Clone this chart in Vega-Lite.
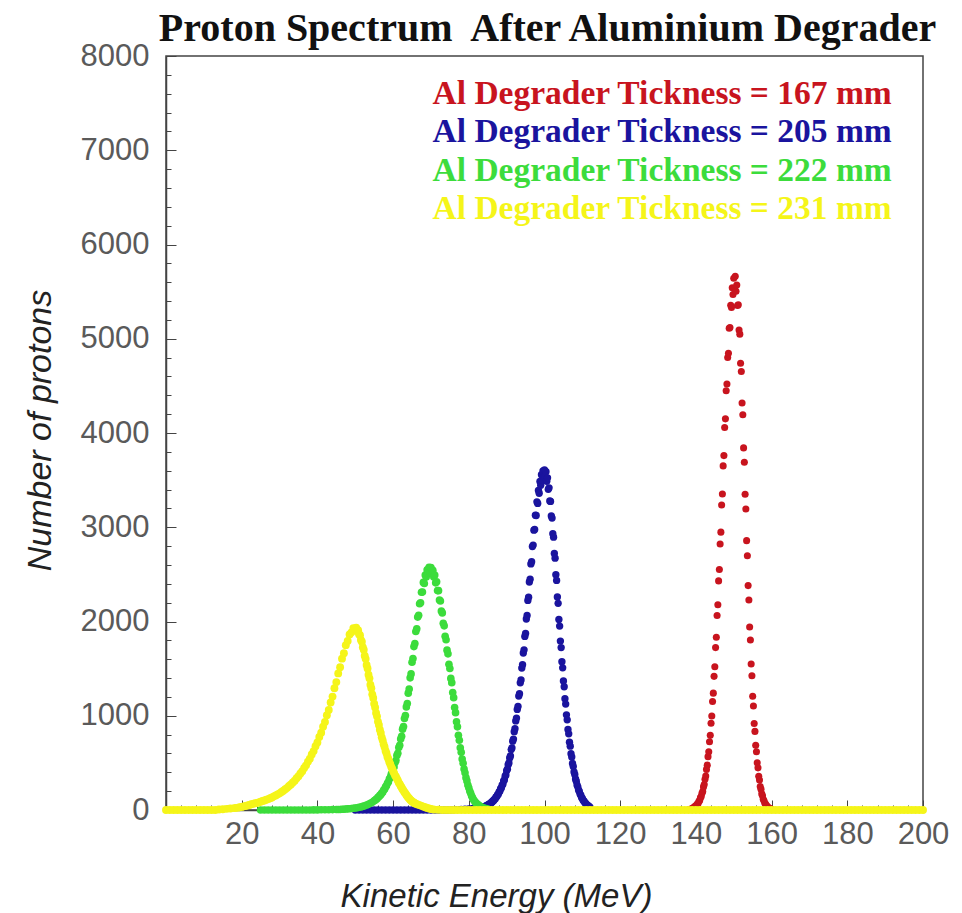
{
"$schema":"https://vega.github.io/schema/vega-lite/v6.json",
"width":757,"height":754,
"autosize":{"type":"none"},
"padding":{"left":166,"top":56,"right":39,"bottom":103},
"background":"white",
"title":{"text":"Proton Spectrum\u00a0 After Aluminium Degrader","font":"Liberation Serif","fontSize":40,"fontWeight":"bold","color":"#111111","anchor":"middle","frame":"group","dx":3,"dy":9,"offset":0},
"config":{"view":{"stroke":"#444444","strokeWidth":1.5}},
"data":{"values":[
{"k":"167","e":138.2,"n":6},{"k":"167","e":138.6,"n":10},{"k":"167","e":139.0,"n":14},{"k":"167","e":139.2,"n":22},{"k":"167","e":139.4,"n":21},{"k":"167","e":139.6,"n":33},{"k":"167","e":139.8,"n":34},{"k":"167","e":140.0,"n":47},{"k":"167","e":140.2,"n":50},{"k":"167","e":140.4,"n":66},{"k":"167","e":140.6,"n":71},{"k":"167","e":140.8,"n":93},{"k":"167","e":141.0,"n":102},{"k":"167","e":141.2,"n":131},{"k":"167","e":141.4,"n":144},{"k":"167","e":141.6,"n":178},{"k":"167","e":141.8,"n":197},{"k":"167","e":142.0,"n":245},{"k":"167","e":142.2,"n":270},{"k":"167","e":142.4,"n":327},{"k":"167","e":142.6,"n":360},{"k":"167","e":142.8,"n":431},{"k":"167","e":143.0,"n":476},{"k":"167","e":143.2,"n":566},{"k":"167","e":143.4,"n":617},{"k":"167","e":143.6,"n":725},{"k":"167","e":143.8,"n":792},{"k":"167","e":144.0,"n":921},{"k":"167","e":144.2,"n":998},{"k":"167","e":144.4,"n":1152},{"k":"167","e":144.6,"n":1240},{"k":"167","e":144.8,"n":1418},{"k":"167","e":145.0,"n":1519},{"k":"167","e":145.2,"n":1723},{"k":"167","e":145.4,"n":1832},{"k":"167","e":145.6,"n":2064},{"k":"167","e":145.8,"n":2178},{"k":"167","e":146.0,"n":2431},{"k":"167","e":146.2,"n":2551},{"k":"167","e":146.4,"n":2822},{"k":"167","e":146.6,"n":2948},{"k":"167","e":146.8,"n":3236},{"k":"167","e":147.0,"n":3352},{"k":"167","e":147.2,"n":3651},{"k":"167","e":147.4,"n":3760},{"k":"167","e":147.6,"n":4058},{"k":"167","e":147.8,"n":4150},{"k":"167","e":148.0,"n":4449},{"k":"167","e":148.2,"n":4519},{"k":"167","e":148.4,"n":4801},{"k":"167","e":148.6,"n":4846},{"k":"167","e":148.8,"n":5112},{"k":"167","e":149.0,"n":5120},{"k":"167","e":149.2,"n":5356},{"k":"167","e":149.4,"n":5331},{"k":"167","e":149.6,"n":5540},{"k":"167","e":149.8,"n":5470},{"k":"167","e":150.0,"n":5641},{"k":"167","e":150.2,"n":5535},{"k":"167","e":150.4,"n":5662},{"k":"167","e":150.6,"n":5504},{"k":"167","e":150.8,"n":5571},{"k":"167","e":151.0,"n":5352},{"k":"167","e":151.2,"n":5361},{"k":"167","e":151.4,"n":5092},{"k":"167","e":151.6,"n":5049},{"k":"167","e":151.8,"n":4740},{"k":"167","e":152.0,"n":4652},{"k":"167","e":152.2,"n":4318},{"k":"167","e":152.4,"n":4193},{"k":"167","e":152.6,"n":3842},{"k":"167","e":152.8,"n":3690},{"k":"167","e":153.0,"n":3351},{"k":"167","e":153.2,"n":3193},{"k":"167","e":153.4,"n":2858},{"k":"167","e":153.6,"n":2697},{"k":"167","e":153.8,"n":2381},{"k":"167","e":154.0,"n":2229},{"k":"167","e":154.2,"n":1942},{"k":"167","e":154.4,"n":1804},{"k":"167","e":154.6,"n":1549},{"k":"167","e":154.8,"n":1425},{"k":"167","e":155.0,"n":1206},{"k":"167","e":155.2,"n":1104},{"k":"167","e":155.4,"n":918},{"k":"167","e":155.6,"n":834},{"k":"167","e":155.8,"n":686},{"k":"167","e":156.0,"n":618},{"k":"167","e":156.2,"n":501},{"k":"167","e":156.4,"n":447},{"k":"167","e":156.6,"n":358},{"k":"167","e":156.8,"n":318},{"k":"167","e":157.0,"n":250},{"k":"167","e":157.2,"n":221},{"k":"167","e":157.4,"n":171},{"k":"167","e":157.6,"n":150},{"k":"167","e":157.8,"n":114},{"k":"167","e":158.0,"n":99},{"k":"167","e":158.2,"n":74},{"k":"167","e":158.4,"n":64},{"k":"167","e":158.6,"n":48},{"k":"167","e":158.8,"n":41},{"k":"167","e":159.0,"n":30},{"k":"167","e":159.4,"n":21},{"k":"167","e":159.8,"n":13},
{"k":"205","e":50,"n":0},{"k":"205","e":51,"n":0},{"k":"205","e":52,"n":0},{"k":"205","e":53,"n":0},{"k":"205","e":54,"n":0},{"k":"205","e":55,"n":0},{"k":"205","e":56,"n":0},{"k":"205","e":57,"n":0},{"k":"205","e":58,"n":0},{"k":"205","e":59,"n":0},{"k":"205","e":60,"n":0},{"k":"205","e":61,"n":0},{"k":"205","e":62,"n":0},{"k":"205","e":63,"n":0},{"k":"205","e":64,"n":0},{"k":"205","e":65,"n":0},{"k":"205","e":66,"n":0},{"k":"205","e":67,"n":0},{"k":"205","e":68,"n":0},{"k":"205","e":69,"n":0},{"k":"205","e":70,"n":0},{"k":"205","e":71,"n":0},{"k":"205","e":72,"n":0},{"k":"205","e":73,"n":0},{"k":"205","e":74,"n":0},{"k":"205","e":75,"n":1},{"k":"205","e":76,"n":2},{"k":"205","e":77,"n":4},{"k":"205","e":78,"n":6},{"k":"205","e":79,"n":9},{"k":"205","e":80,"n":12},{"k":"205","e":81,"n":16},{"k":"205","e":82,"n":21},{"k":"205","e":83,"n":27},
{"k":"205","e":84.0,"n":35},{"k":"205","e":84.2,"n":34},{"k":"205","e":84.4,"n":41},{"k":"205","e":84.6,"n":42},{"k":"205","e":84.8,"n":49},{"k":"205","e":85.0,"n":50},{"k":"205","e":85.2,"n":58},{"k":"205","e":85.4,"n":60},{"k":"205","e":85.6,"n":69},{"k":"205","e":85.8,"n":71},{"k":"205","e":86.0,"n":82},{"k":"205","e":86.2,"n":86},{"k":"205","e":86.4,"n":98},{"k":"205","e":86.6,"n":101},{"k":"205","e":86.8,"n":116},{"k":"205","e":87.0,"n":120},{"k":"205","e":87.2,"n":138},{"k":"205","e":87.4,"n":143},{"k":"205","e":87.6,"n":163},{"k":"205","e":87.8,"n":168},{"k":"205","e":88.0,"n":192},{"k":"205","e":88.2,"n":199},{"k":"205","e":88.4,"n":225},{"k":"205","e":88.6,"n":233},{"k":"205","e":88.8,"n":263},{"k":"205","e":89.0,"n":272},{"k":"205","e":89.2,"n":309},{"k":"205","e":89.4,"n":318},{"k":"205","e":89.6,"n":359},{"k":"205","e":89.8,"n":371},{"k":"205","e":90.0,"n":417},{"k":"205","e":90.2,"n":433},{"k":"205","e":90.4,"n":481},{"k":"205","e":90.6,"n":499},{"k":"205","e":90.8,"n":553},{"k":"205","e":91.0,"n":574},{"k":"205","e":91.2,"n":642},{"k":"205","e":91.4,"n":659},{"k":"205","e":91.6,"n":730},{"k":"205","e":91.8,"n":752},{"k":"205","e":92.0,"n":831},{"k":"205","e":92.2,"n":862},{"k":"205","e":92.4,"n":945},{"k":"205","e":92.6,"n":975},{"k":"205","e":92.8,"n":1067},{"k":"205","e":93.0,"n":1098},{"k":"205","e":93.2,"n":1209},{"k":"205","e":93.4,"n":1234},{"k":"205","e":93.6,"n":1349},{"k":"205","e":93.8,"n":1379},{"k":"205","e":94.0,"n":1506},{"k":"205","e":94.2,"n":1541},{"k":"205","e":94.4,"n":1666},{"k":"205","e":94.6,"n":1699},{"k":"205","e":94.8,"n":1842},{"k":"205","e":95.0,"n":1874},{"k":"205","e":95.2,"n":2027},{"k":"205","e":95.4,"n":2064},{"k":"205","e":95.6,"n":2224},{"k":"205","e":95.8,"n":2258},{"k":"205","e":96.0,"n":2419},{"k":"205","e":96.2,"n":2449},{"k":"205","e":96.4,"n":2611},{"k":"205","e":96.6,"n":2634},{"k":"205","e":96.8,"n":2795},{"k":"205","e":97.0,"n":2811},{"k":"205","e":97.2,"n":2969},{"k":"205","e":97.4,"n":2976},{"k":"205","e":97.6,"n":3128},{"k":"205","e":97.8,"n":3125},{"k":"205","e":98.0,"n":3270},{"k":"205","e":98.2,"n":3253},{"k":"205","e":98.4,"n":3390},{"k":"205","e":98.6,"n":3361},{"k":"205","e":98.8,"n":3486},{"k":"205","e":99.0,"n":3446},{"k":"205","e":99.2,"n":3557},{"k":"205","e":99.4,"n":3502},{"k":"205","e":99.6,"n":3598},{"k":"205","e":99.8,"n":3532},{"k":"205","e":100.0,"n":3609},{"k":"205","e":100.2,"n":3531},{"k":"205","e":100.4,"n":3590},{"k":"205","e":100.6,"n":3487},{"k":"205","e":100.8,"n":3524},{"k":"205","e":101.0,"n":3402},{"k":"205","e":101.2,"n":3418},{"k":"205","e":101.4,"n":3278},{"k":"205","e":101.6,"n":3274},{"k":"205","e":101.8,"n":3119},{"k":"205","e":102.0,"n":3097},{"k":"205","e":102.2,"n":2931},{"k":"205","e":102.4,"n":2895},{"k":"205","e":102.6,"n":2721},{"k":"205","e":102.8,"n":2672},{"k":"205","e":103.0,"n":2496},{"k":"205","e":103.2,"n":2436},{"k":"205","e":103.4,"n":2261},{"k":"205","e":103.6,"n":2193},{"k":"205","e":103.8,"n":2022},{"k":"205","e":104.0,"n":1951},{"k":"205","e":104.2,"n":1792},{"k":"205","e":104.4,"n":1723},{"k":"205","e":104.6,"n":1574},{"k":"205","e":104.8,"n":1508},{"k":"205","e":105.0,"n":1369},{"k":"205","e":105.2,"n":1308},{"k":"205","e":105.4,"n":1180},{"k":"205","e":105.6,"n":1124},{"k":"205","e":105.8,"n":1010},{"k":"205","e":106.0,"n":957},{"k":"205","e":106.2,"n":855},{"k":"205","e":106.4,"n":808},{"k":"205","e":106.6,"n":719},{"k":"205","e":106.8,"n":677},{"k":"205","e":107.0,"n":598},{"k":"205","e":107.2,"n":562},{"k":"205","e":107.4,"n":494},{"k":"205","e":107.6,"n":462},{"k":"205","e":107.8,"n":404},{"k":"205","e":108.0,"n":377},{"k":"205","e":108.2,"n":329},{"k":"205","e":108.4,"n":306},{"k":"205","e":108.6,"n":265},{"k":"205","e":108.8,"n":246},{"k":"205","e":109.0,"n":212},{"k":"205","e":109.2,"n":196},{"k":"205","e":109.4,"n":169},{"k":"205","e":109.6,"n":156},{"k":"205","e":109.8,"n":133},{"k":"205","e":110.0,"n":122},{"k":"205","e":110.2,"n":104},{"k":"205","e":110.4,"n":96},{"k":"205","e":110.6,"n":81},{"k":"205","e":110.8,"n":74},{"k":"205","e":111.0,"n":63},{"k":"205","e":111.2,"n":57},{"k":"205","e":111.4,"n":48},{"k":"205","e":111.6,"n":44},{"k":"205","e":111.8,"n":36},{"k":"205","e":112.0,"n":31},
{"k":"222","e":25,"n":0},{"k":"222","e":26,"n":0},{"k":"222","e":27,"n":0},{"k":"222","e":28,"n":0},{"k":"222","e":29,"n":0},{"k":"222","e":30,"n":0},{"k":"222","e":31,"n":0},{"k":"222","e":32,"n":0},{"k":"222","e":33,"n":0},{"k":"222","e":34,"n":0},{"k":"222","e":35,"n":0},{"k":"222","e":36,"n":0},{"k":"222","e":37,"n":0},{"k":"222","e":38,"n":0},{"k":"222","e":39,"n":1},{"k":"222","e":40,"n":1},{"k":"222","e":41,"n":2},{"k":"222","e":42,"n":2},{"k":"222","e":43,"n":3},{"k":"222","e":44,"n":4},
{"k":"222","e":45,"n":5},{"k":"222","e":45.5,"n":6},{"k":"222","e":46,"n":6},{"k":"222","e":46.5,"n":8},{"k":"222","e":47,"n":8},{"k":"222","e":47.5,"n":10},{"k":"222","e":48,"n":12},{"k":"222","e":48.5,"n":13},{"k":"222","e":49,"n":16},{"k":"222","e":49.5,"n":18},{"k":"222","e":50,"n":21},{"k":"222","e":50.5,"n":24},{"k":"222","e":51,"n":29},{"k":"222","e":51.5,"n":32},{"k":"222","e":52,"n":39},{"k":"222","e":52.5,"n":44},{"k":"222","e":53,"n":53},{"k":"222","e":53.5,"n":60},{"k":"222","e":54,"n":72},{"k":"222","e":54.5,"n":82},{"k":"222","e":55,"n":97},{"k":"222","e":55.25,"n":103},{"k":"222","e":55.5,"n":113},{"k":"222","e":55.75,"n":120},{"k":"222","e":56,"n":134},{"k":"222","e":56.25,"n":141},{"k":"222","e":56.5,"n":155},{"k":"222","e":56.75,"n":163},{"k":"222","e":57,"n":181},{"k":"222","e":57.25,"n":189},{"k":"222","e":57.5,"n":211},{"k":"222","e":57.75,"n":220},{"k":"222","e":58,"n":245},{"k":"222","e":58.25,"n":256},{"k":"222","e":58.5,"n":284},{"k":"222","e":58.75,"n":296},{"k":"222","e":59,"n":328},{"k":"222","e":59.25,"n":343},{"k":"222","e":59.5,"n":380},{"k":"222","e":59.75,"n":395},{"k":"222","e":60,"n":437},{"k":"222","e":60.25,"n":456},{"k":"222","e":60.5,"n":505},{"k":"222","e":60.75,"n":524},{"k":"222","e":61,"n":579},{"k":"222","e":61.25,"n":601},{"k":"222","e":61.5,"n":663},{"k":"222","e":61.75,"n":686},{"k":"222","e":62,"n":754},{"k":"222","e":62.25,"n":782},{"k":"222","e":62.5,"n":858},{"k":"222","e":62.75,"n":886},{"k":"222","e":63,"n":971},{"k":"222","e":63.25,"n":1002},{"k":"222","e":63.5,"n":1094},{"k":"222","e":63.75,"n":1129},{"k":"222","e":64,"n":1240},{"k":"222","e":64.25,"n":1284},{"k":"222","e":64.5,"n":1402},{"k":"222","e":64.75,"n":1444},{"k":"222","e":65,"n":1568},{"k":"222","e":65.25,"n":1607},{"k":"222","e":65.5,"n":1734},{"k":"222","e":65.75,"n":1767},{"k":"222","e":66,"n":1894},{"k":"222","e":66.25,"n":1922},{"k":"222","e":66.5,"n":2047},{"k":"222","e":66.75,"n":2067},{"k":"222","e":67,"n":2188},{"k":"222","e":67.25,"n":2198},{"k":"222","e":67.5,"n":2311},{"k":"222","e":67.75,"n":2312},{"k":"222","e":68,"n":2415},{"k":"222","e":68.25,"n":2403},{"k":"222","e":68.5,"n":2494},{"k":"222","e":68.75,"n":2471},{"k":"222","e":69,"n":2548},{"k":"222","e":69.25,"n":2511},{"k":"222","e":69.5,"n":2575},{"k":"222","e":69.75,"n":2523},{"k":"222","e":70,"n":2572},{"k":"222","e":70.25,"n":2509},{"k":"222","e":70.5,"n":2544},{"k":"222","e":70.75,"n":2471},{"k":"222","e":71,"n":2493},{"k":"222","e":71.25,"n":2410},{"k":"222","e":71.5,"n":2421},{"k":"222","e":71.75,"n":2328},{"k":"222","e":72,"n":2327},{"k":"222","e":72.25,"n":2227},{"k":"222","e":72.5,"n":2217},{"k":"222","e":72.75,"n":2111},{"k":"222","e":73,"n":2091},{"k":"222","e":73.25,"n":1981},{"k":"222","e":73.5,"n":1954},{"k":"222","e":73.75,"n":1843},{"k":"222","e":74,"n":1807},{"k":"222","e":74.25,"n":1696},{"k":"222","e":74.5,"n":1657},{"k":"222","e":74.75,"n":1546},{"k":"222","e":75,"n":1502},{"k":"222","e":75.25,"n":1396},{"k":"222","e":75.5,"n":1351},{"k":"222","e":75.75,"n":1247},{"k":"222","e":76,"n":1192},{"k":"222","e":76.25,"n":1088},{"k":"222","e":76.5,"n":1033},{"k":"222","e":76.75,"n":936},{"k":"222","e":77,"n":882},{"k":"222","e":77.25,"n":792},{"k":"222","e":77.5,"n":740},{"k":"222","e":77.75,"n":660},{"k":"222","e":78,"n":612},{"k":"222","e":78.25,"n":540},{"k":"222","e":78.5,"n":496},{"k":"222","e":78.75,"n":434},{"k":"222","e":79,"n":395},{"k":"222","e":79.25,"n":343},{"k":"222","e":79.5,"n":309},{"k":"222","e":79.75,"n":265},{"k":"222","e":80,"n":236},{"k":"222","e":80.25,"n":201},{"k":"222","e":80.5,"n":177},{"k":"222","e":80.75,"n":149},{"k":"222","e":81,"n":130},{"k":"222","e":81.25,"n":108},{"k":"222","e":81.5,"n":96},{"k":"222","e":81.75,"n":82},{"k":"222","e":82,"n":72},{"k":"222","e":82.25,"n":61},{"k":"222","e":82.5,"n":54},{"k":"222","e":82.75,"n":45},{"k":"222","e":83,"n":39},{"k":"222","e":83.5,"n":28},{"k":"222","e":84,"n":20},{"k":"222","e":84.5,"n":14},{"k":"222","e":85,"n":10},
{"k":"231","e":0,"n":0},{"k":"231","e":1,"n":0},{"k":"231","e":2,"n":0},{"k":"231","e":3,"n":0},{"k":"231","e":4,"n":0},{"k":"231","e":5,"n":0},{"k":"231","e":6,"n":0},{"k":"231","e":7,"n":0},{"k":"231","e":8,"n":0},{"k":"231","e":9,"n":0},{"k":"231","e":10,"n":0},{"k":"231","e":11,"n":0},{"k":"231","e":12,"n":0},{"k":"231","e":13,"n":0},{"k":"231","e":14,"n":5},{"k":"231","e":15,"n":8},{"k":"231","e":16,"n":12},{"k":"231","e":17,"n":16},
{"k":"231","e":18,"n":20},{"k":"231","e":18.5,"n":23},{"k":"231","e":19,"n":25},{"k":"231","e":19.5,"n":30},{"k":"231","e":20,"n":33},{"k":"231","e":20.5,"n":39},{"k":"231","e":21,"n":43},{"k":"231","e":21.5,"n":49},{"k":"231","e":22,"n":54},{"k":"231","e":22.5,"n":61},{"k":"231","e":23,"n":65},{"k":"231","e":23.5,"n":71},{"k":"231","e":24,"n":74},{"k":"231","e":24.5,"n":81},{"k":"231","e":25,"n":88},{"k":"231","e":25.5,"n":95},{"k":"231","e":26,"n":101},{"k":"231","e":26.5,"n":109},{"k":"231","e":27,"n":116},{"k":"231","e":27.5,"n":125},{"k":"231","e":28,"n":133},{"k":"231","e":28.5,"n":145},{"k":"231","e":29,"n":155},{"k":"231","e":29.5,"n":166},{"k":"231","e":30,"n":177},{"k":"231","e":30.5,"n":191},{"k":"231","e":31,"n":204},{"k":"231","e":31.5,"n":221},{"k":"231","e":32,"n":235},{"k":"231","e":32.5,"n":254},{"k":"231","e":33,"n":270},{"k":"231","e":33.5,"n":292},{"k":"231","e":34,"n":311},{"k":"231","e":34.5,"n":337},{"k":"231","e":35,"n":358},{"k":"231","e":35.5,"n":388},{"k":"231","e":36,"n":412},{"k":"231","e":36.5,"n":446},{"k":"231","e":37,"n":474},{"k":"231","e":37.5,"n":513},{"k":"231","e":38,"n":545},{"k":"231","e":38.5,"n":590},{"k":"231","e":39,"n":625},{"k":"231","e":39.5,"n":676},{"k":"231","e":40,"n":716},{"k":"231","e":40.5,"n":774},{"k":"231","e":41,"n":819},{"k":"231","e":41.5,"n":884},{"k":"231","e":42,"n":934},{"k":"231","e":42.5,"n":1006},{"k":"231","e":43,"n":1061},{"k":"231","e":43.5,"n":1140},{"k":"231","e":44,"n":1203},{"k":"231","e":44.5,"n":1292},{"k":"231","e":45,"n":1357},{"k":"231","e":45.5,"n":1449},{"k":"231","e":46,"n":1514},{"k":"231","e":46.5,"n":1606},{"k":"231","e":47,"n":1663},{"k":"231","e":47.5,"n":1749},{"k":"231","e":48,"n":1793},{"k":"231","e":48.5,"n":1863},{"k":"231","e":49,"n":1885},{"k":"231","e":49.5,"n":1930},{"k":"231","e":50,"n":1920},{"k":"231","e":50.25,"n":1935},{"k":"231","e":50.5,"n":1906},{"k":"231","e":50.75,"n":1908},{"k":"231","e":51,"n":1866},{"k":"231","e":51.25,"n":1855},{"k":"231","e":51.5,"n":1804},{"k":"231","e":51.75,"n":1785},{"k":"231","e":52,"n":1727},{"k":"231","e":52.25,"n":1700},{"k":"231","e":52.5,"n":1637},{"k":"231","e":52.75,"n":1604},{"k":"231","e":53,"n":1539},{"k":"231","e":53.25,"n":1502},{"k":"231","e":53.5,"n":1435},{"k":"231","e":53.75,"n":1397},{"k":"231","e":54,"n":1330},{"k":"231","e":54.25,"n":1293},{"k":"231","e":54.5,"n":1227},{"k":"231","e":54.75,"n":1188},{"k":"231","e":55,"n":1127},{"k":"231","e":55.25,"n":1088},{"k":"231","e":55.5,"n":1030},{"k":"231","e":55.75,"n":994},{"k":"231","e":56,"n":938},{"k":"231","e":56.25,"n":902},{"k":"231","e":56.5,"n":851},{"k":"231","e":56.75,"n":818},{"k":"231","e":57,"n":771},{"k":"231","e":57.25,"n":739},{"k":"231","e":57.5,"n":697},{"k":"231","e":57.75,"n":669},{"k":"231","e":58,"n":629},{"k":"231","e":58.25,"n":602},{"k":"231","e":58.5,"n":566},{"k":"231","e":58.75,"n":542},{"k":"231","e":59,"n":509},{"k":"231","e":59.25,"n":486},{"k":"231","e":59.5,"n":458},{"k":"231","e":59.75,"n":438},{"k":"231","e":60,"n":411},{"k":"231","e":60.25,"n":393},{"k":"231","e":60.5,"n":368},{"k":"231","e":60.75,"n":354},{"k":"231","e":61,"n":331},{"k":"231","e":61.25,"n":313},{"k":"231","e":61.5,"n":290},{"k":"231","e":61.75,"n":275},{"k":"231","e":62,"n":255},{"k":"231","e":62.25,"n":239},{"k":"231","e":62.5,"n":220},{"k":"231","e":62.75,"n":206},{"k":"231","e":63,"n":188},{"k":"231","e":63.25,"n":177},{"k":"231","e":63.5,"n":160},{"k":"231","e":63.75,"n":147},{"k":"231","e":64,"n":133},{"k":"231","e":64.25,"n":122},{"k":"231","e":64.5,"n":110},{"k":"231","e":64.75,"n":101},{"k":"231","e":65,"n":91},{"k":"231","e":65.25,"n":85},{"k":"231","e":65.5,"n":77},{"k":"231","e":65.75,"n":72},{"k":"231","e":66,"n":66},{"k":"231","e":66.5,"n":58},{"k":"231","e":67,"n":52},{"k":"231","e":67.5,"n":44},{"k":"231","e":68,"n":36},{"k":"231","e":68.5,"n":29},{"k":"231","e":69,"n":22},{"k":"231","e":69.5,"n":16},{"k":"231","e":70,"n":11},{"k":"231","e":70.5,"n":7},{"k":"231","e":71,"n":4},{"k":"231","e":72,"n":2},
{"k":"231","e":73,"n":0},{"k":"231","e":74,"n":0},{"k":"231","e":75,"n":0},{"k":"231","e":76,"n":0},{"k":"231","e":77,"n":0},{"k":"231","e":78,"n":0},{"k":"231","e":79,"n":0},{"k":"231","e":80,"n":0},{"k":"231","e":81,"n":0},{"k":"231","e":82,"n":0},{"k":"231","e":83,"n":0},{"k":"231","e":84,"n":0},{"k":"231","e":85,"n":0},{"k":"231","e":86,"n":0},{"k":"231","e":87,"n":0},{"k":"231","e":88,"n":0},{"k":"231","e":89,"n":0},{"k":"231","e":90,"n":0},{"k":"231","e":91,"n":0},{"k":"231","e":92,"n":0},{"k":"231","e":93,"n":0},{"k":"231","e":94,"n":0},{"k":"231","e":95,"n":0},{"k":"231","e":96,"n":0},{"k":"231","e":97,"n":0},{"k":"231","e":98,"n":0},{"k":"231","e":99,"n":0},{"k":"231","e":100,"n":0},{"k":"231","e":101,"n":0},{"k":"231","e":102,"n":0},{"k":"231","e":103,"n":0},{"k":"231","e":104,"n":0},{"k":"231","e":105,"n":0},{"k":"231","e":106,"n":0},{"k":"231","e":107,"n":0},{"k":"231","e":108,"n":0},{"k":"231","e":109,"n":0},{"k":"231","e":110,"n":0},{"k":"231","e":111,"n":0},{"k":"231","e":112,"n":0},{"k":"231","e":113,"n":0},{"k":"231","e":114,"n":0},{"k":"231","e":115,"n":0},{"k":"231","e":116,"n":0},{"k":"231","e":117,"n":0},{"k":"231","e":118,"n":0},{"k":"231","e":119,"n":0},{"k":"231","e":120,"n":0},{"k":"231","e":121,"n":0},{"k":"231","e":122,"n":0},{"k":"231","e":123,"n":0},{"k":"231","e":124,"n":0},{"k":"231","e":125,"n":0},{"k":"231","e":126,"n":0},{"k":"231","e":127,"n":0},{"k":"231","e":128,"n":0},{"k":"231","e":129,"n":0},{"k":"231","e":130,"n":0},{"k":"231","e":131,"n":0},{"k":"231","e":132,"n":0},{"k":"231","e":133,"n":0},{"k":"231","e":134,"n":0},{"k":"231","e":135,"n":0},{"k":"231","e":136,"n":0},{"k":"231","e":137,"n":0},{"k":"231","e":138,"n":0},{"k":"231","e":139,"n":0},{"k":"231","e":140,"n":0},{"k":"231","e":141,"n":0},{"k":"231","e":142,"n":0},{"k":"231","e":143,"n":0},{"k":"231","e":144,"n":0},{"k":"231","e":145,"n":0},{"k":"231","e":146,"n":0},{"k":"231","e":147,"n":0},{"k":"231","e":148,"n":0},{"k":"231","e":149,"n":0},{"k":"231","e":150,"n":0},{"k":"231","e":151,"n":0},{"k":"231","e":152,"n":0},{"k":"231","e":153,"n":0},{"k":"231","e":154,"n":0},{"k":"231","e":155,"n":0},{"k":"231","e":156,"n":0},{"k":"231","e":157,"n":0},{"k":"231","e":158,"n":0},{"k":"231","e":159,"n":0},{"k":"231","e":160,"n":0},{"k":"231","e":161,"n":0},{"k":"231","e":162,"n":0},{"k":"231","e":163,"n":0},{"k":"231","e":164,"n":0},{"k":"231","e":165,"n":0},{"k":"231","e":166,"n":0},{"k":"231","e":167,"n":0},{"k":"231","e":168,"n":0},{"k":"231","e":169,"n":0},{"k":"231","e":170,"n":0},{"k":"231","e":171,"n":0},{"k":"231","e":172,"n":0},{"k":"231","e":173,"n":0},{"k":"231","e":174,"n":0},{"k":"231","e":175,"n":0},{"k":"231","e":176,"n":0},{"k":"231","e":177,"n":0},{"k":"231","e":178,"n":0},{"k":"231","e":179,"n":0},{"k":"231","e":180,"n":0},{"k":"231","e":181,"n":0},{"k":"231","e":182,"n":0},{"k":"231","e":183,"n":0},{"k":"231","e":184,"n":0},{"k":"231","e":185,"n":0},{"k":"231","e":186,"n":0},{"k":"231","e":187,"n":0},{"k":"231","e":188,"n":0},{"k":"231","e":189,"n":0},{"k":"231","e":190,"n":0},{"k":"231","e":191,"n":0},{"k":"231","e":192,"n":0},{"k":"231","e":193,"n":0},{"k":"231","e":194,"n":0},{"k":"231","e":195,"n":0},{"k":"231","e":196,"n":0},{"k":"231","e":197,"n":0},{"k":"231","e":198,"n":0},{"k":"231","e":199,"n":0},{"k":"231","e":200,"n":0}
]},
"layer":[
{"mark":{"type":"point","filled":true,"opacity":1,"strokeWidth":0},
 "encoding":{
  "x":{"field":"e","type":"quantitative","scale":{"domain":[0,200],"nice":false,"zero":false},
   "axis":{"orient":"bottom","values":[20,40,60,80,100,120,140,160,180,200],"grid":false,"tickSize":-10,"tickColor":"#444444","tickWidth":1,"domainColor":"#444444","domainWidth":1.5,"labelFont":"Liberation Sans","labelFontSize":31,"labelColor":"#5a5a5a","labelPadding":19,"labelFlush":false,"labelOverlap":false,"title":"Kinetic Energy (MeV)","titleFont":"Liberation Sans","titleFontSize":33,"titleFontStyle":"italic","titleFontWeight":"normal","titleColor":"#222222","titleX":330,"titleY":96,"titleBaseline":"alphabetic","titleAlign":"center"}},
  "y":{"field":"n","type":"quantitative","scale":{"domain":[0,8000],"nice":false},
   "axis":{"orient":"left","values":[0,1000,2000,3000,4000,5000,6000,7000,8000],"format":"d","grid":false,"tickSize":-10,"tickColor":"#444444","tickWidth":1,"domainColor":"#444444","domainWidth":1.5,"labelFont":"Liberation Sans","labelFontSize":31,"labelColor":"#5a5a5a","labelPadding":27,"labelFlush":false,"labelOverlap":false,"title":"Number of protons","titleFont":"Liberation Sans","titleFontSize":34,"titleFontStyle":"italic","titleFontWeight":"normal","titleColor":"#222222","titleX":-126,"titleY":374,"titleAngle":-90,"titleBaseline":"middle","titleAlign":"center"}},
  "color":{"field":"k","type":"nominal","scale":{"domain":["167","205","222","231"],"range":["#c8141e","#1a149e","#3cdc3c","#f5f519"]},
   "legend":{"orient":"none","legendX":233,"legendY":21,"direction":"vertical","title":null,"labelExpr":"'Al Degrader Tickness = ' + datum.label + ' mm'","labelFont":"Liberation Serif","labelFontSize":33.5,"labelFontWeight":"bold","labelLimit":0,"symbolSize":0,"symbolOpacity":0,"symbolStrokeWidth":0,"labelOffset":0,"rowPadding":3.5,"padding":0,
    "encode":{"labels":{"update":{"fill":{"scale":"color","field":"value"}}}}}},
  "size":{"field":"k","type":"nominal","scale":{"domain":["167","205","222","231"],"range":[50,62,85,100]},"legend":null}
 }},
{"transform":[{"filter":"datum.k === '231' && datum.e === 100"}],
 "mark":{"type":"point","opacity":0},
 "encoding":{
  "x":{"field":"e","type":"quantitative","scale":{"domain":[0,200],"nice":false,"zero":false},
   "axis":{"orient":"bottom","values":[4,8,12,16,24,28,32,36,44,48,52,56,64,68,72,76,84,88,92,96,104,108,112,116,124,128,132,136,144,148,152,156,164,168,172,176,184,188,192,196],"grid":false,"labels":false,"domain":false,"title":null,"tickSize":-5,"tickColor":"#444444","tickWidth":1}},
  "y":{"field":"n","type":"quantitative","scale":{"domain":[0,8000],"nice":false},
   "axis":{"orient":"left","values":[200,400,600,800,1200,1400,1600,1800,2200,2400,2600,2800,3200,3400,3600,3800,4200,4400,4600,4800,5200,5400,5600,5800,6200,6400,6600,6800,7200,7400,7600,7800],"grid":false,"labels":false,"domain":false,"title":null,"tickSize":-5,"tickColor":"#444444","tickWidth":1}}
 }}
],
"resolve":{"axis":{"x":"independent","y":"independent"}}
}
